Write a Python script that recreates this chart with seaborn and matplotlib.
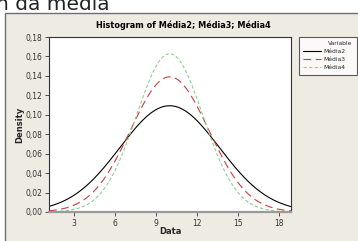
import numpy as np
import pandas as pd
import matplotlib
matplotlib.use("Agg")
import matplotlib.pyplot as plt
from matplotlib.patches import Rectangle
from matplotlib.ticker import FuncFormatter
import seaborn as sns

# fitted normal curves
variables = ["Média2", "Média3", "Média4"]
means = [10.0, 10.0, 10.0]
stdevs = [3.65, 2.87, 2.45]
colors = ["#000000", "#D23C3C", "#8ED08E"]
x_ticks = [3, 6, 9, 12, 15, 18]
y_ticks = [0.00, 0.02, 0.04, 0.06, 0.08, 0.10, 0.12, 0.14, 0.16, 0.18]

x_min, x_max = 1.15, 18.9
xs = np.linspace(x_min, x_max, 300)
rows = []
for name, mu, sd in zip(variables, means, stdevs):
    dens = np.exp(-0.5 * ((xs - mu) / sd) ** 2) / (sd * np.sqrt(2 * np.pi))
    rows.append(pd.DataFrame({"Data": xs, "Density": dens, "Variable": name}))
df = pd.concat(rows, ignore_index=True)

sns.set_style("white")
plt.rcParams['font.family'] = ['DejaVu Sans']

fig = plt.figure(figsize=(3.58, 2.41), dpi=100)
fig.patch.set_facecolor("white")
W, H = 358, 241
# beige Minitab frame
fig.patches.append(Rectangle((5 / W, -0.01), 1.0, 1 - 13 / H + 0.01, transform=fig.transFigure,
                             facecolor="#EEEBE3", edgecolor="#6E6E6E", linewidth=1.0, zorder=-5))
# cut-off document text above the chart
fig.text(-0.012, 1 - 10 / H, "n da média", fontsize=14.5, color="#222222", ha="left", va="baseline")

ax = fig.add_axes([49 / W, 1 - 212 / H, (291 - 49) / W, (212 - 37) / H])
ax.set_zorder(2)
ax.set_facecolor("white")
sns.lineplot(data=df, x="Data", y="Density", hue="Variable", style="Variable",
             palette=dict(zip(variables, colors)),
             dashes={"Média2": "", "Média3": (7, 4), "Média4": (3, 2)},
             linewidth=0.8, ax=ax)

ax.set_xlim(x_min, x_max)
ax.set_ylim(0, 0.18)
ax.set_xticks(x_ticks)
ax.set_yticks(y_ticks)
ax.yaxis.set_major_formatter(FuncFormatter(lambda v, p: f"{v:.2f}".replace(".", ",")))
ax.tick_params(axis="both", direction="out", length=3, width=0.6, labelsize=5.5,
               colors="#333333", pad=2, left=True, bottom=True)
for s in ["top", "right", "left"]:
    ax.spines[s].set_color("#333333")
    ax.spines[s].set_linewidth(0.8)
ax.spines["bottom"].set_color("#9A9A9A")
ax.spines["bottom"].set_linewidth(1.6)

ax.set_xlabel("Data", fontsize=6, fontweight="bold", labelpad=-1)
ax.set_ylabel("Density", fontsize=6, fontweight="bold", labelpad=0.5)
fig.text(183 / W, 1 - 25 / H, "Histogram of Média2; Média3; Média4", fontsize=5.9,
         fontweight="bold", color="black", ha="center", va="center")

handles, labels = ax.get_legend_handles_labels()
leg = ax.legend(handles, labels, title="Variable", loc="upper left",
                bbox_to_anchor=(299 / W, 1 - 37 / H, 58 / W, 0), bbox_transform=fig.transFigure,
                mode="expand", fontsize=4.3, title_fontsize=4.3, frameon=True, fancybox=False,
                edgecolor="#333333", handlelength=3.0, handletextpad=0.4,
                borderpad=0.75, borderaxespad=0, labelspacing=0.45, alignment="right")
leg.get_frame().set_linewidth(0.8)
for line in leg.get_lines():
    line.set_linewidth(0.8)

fig.savefig("out.png", dpi=100)
